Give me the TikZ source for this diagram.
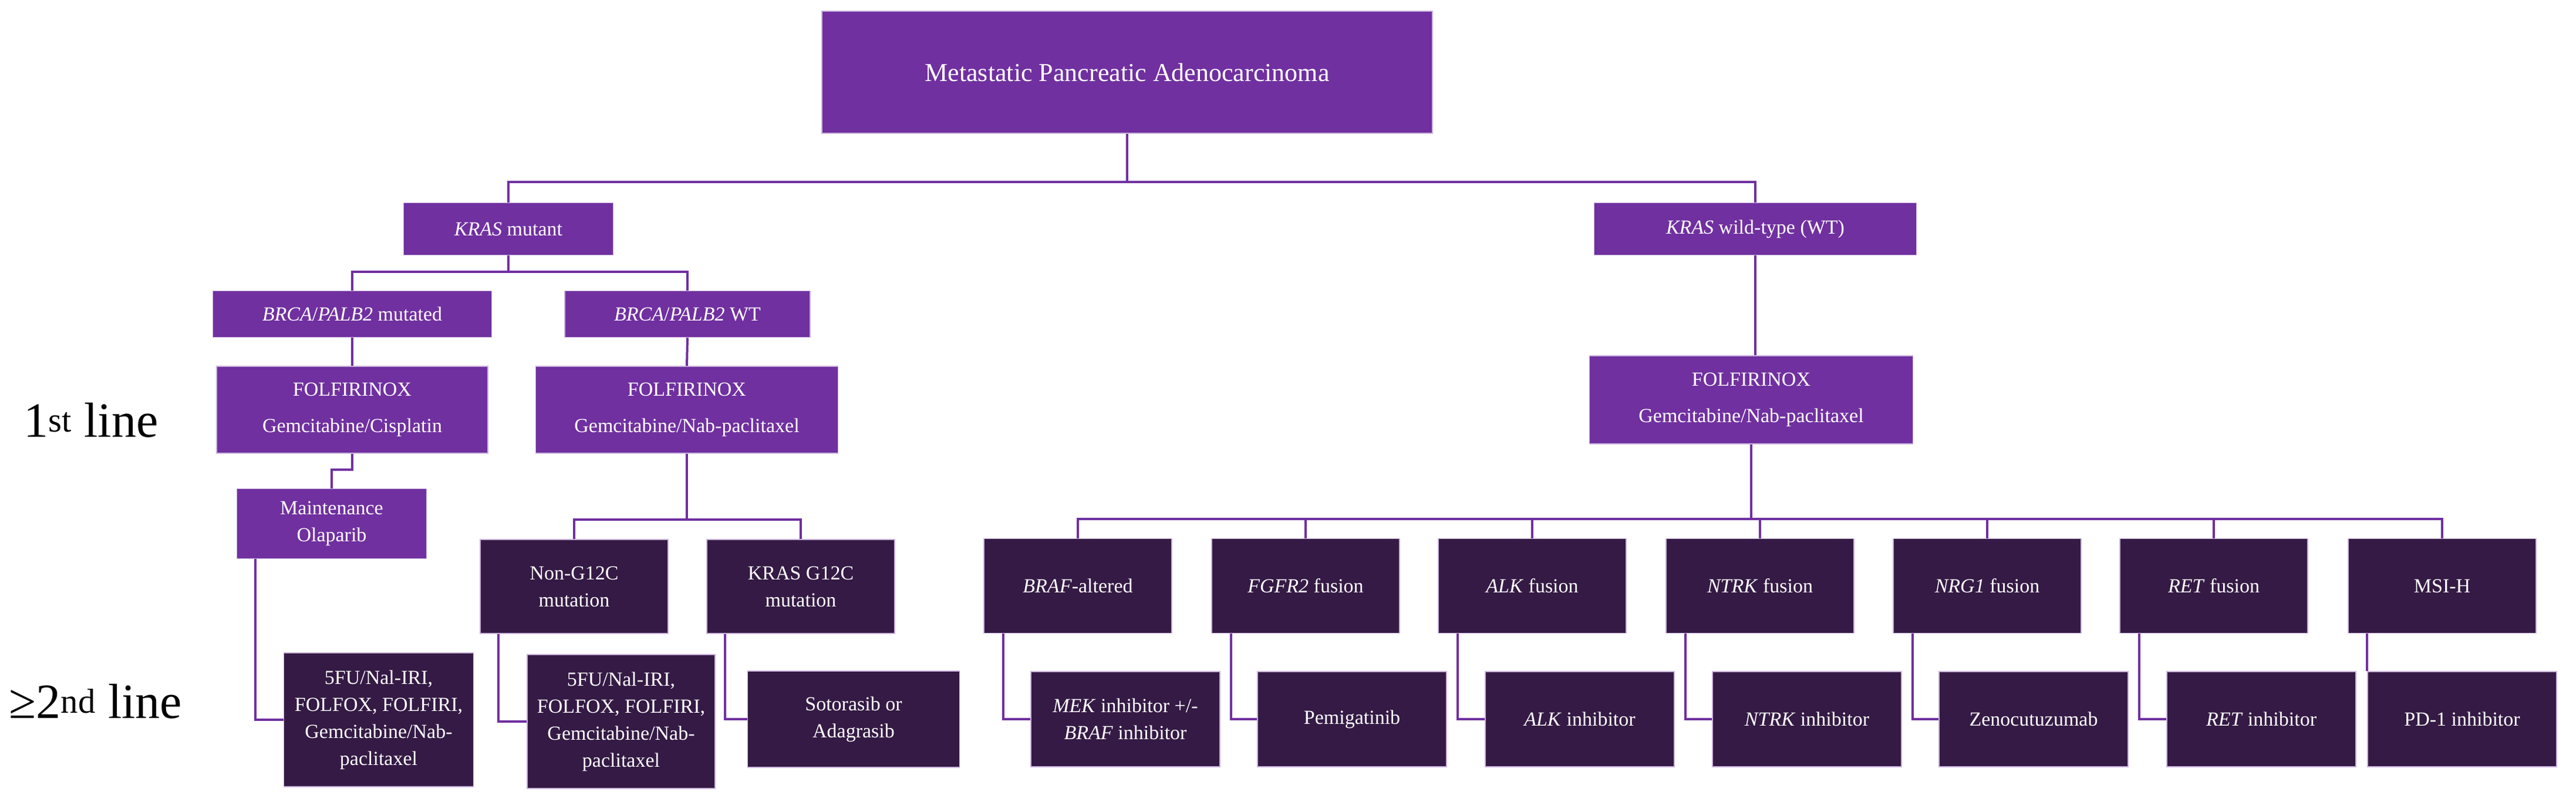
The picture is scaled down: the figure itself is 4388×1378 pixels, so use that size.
\documentclass[tikz,border=0pt]{standalone}
\usepackage{fontspec}
\setmainfont{Liberation Serif}
\definecolor{lp}{HTML}{7030A0}
\definecolor{dp}{HTML}{341A44}
\definecolor{bd}{HTML}{C9B3DC}
\begin{document}
\begin{tikzpicture}[x=1pt,y=-1pt,
 box/.style={draw=bd,line width=1.5pt,text=white,align=center,inner sep=2pt,font=\fontsize{34}{46}\selectfont},
 lb/.style={box,fill=lp},
 db/.style={box,fill=dp},
 ln/.style={draw=lp,line width=4pt},
 lab/.style={font=\fontsize{84}{90}\selectfont,text=black}]
\useasboundingbox (0,0) rectangle (4388,1378);
\newcommand{\bx}[7]{\node[#1,minimum width=#4pt,minimum height=#5pt,text width=#4pt-12pt] (#2) at #3 {#7};}
% nodes
\node[lb,minimum width=1040pt,minimum height=208pt,font=\fontsize{44}{50}\selectfont] (top) at (1920,123) {Metastatic Pancreatic Adenocarcinoma};
\node[lb,minimum width=357pt,minimum height=89pt] (km) at (866,390) {\textit{KRAS} mutant};
\node[lb,minimum width=549pt,minimum height=89pt] (kw) at (2990,390) {\textit{KRAS} wild-type (WT)};
\node[lb,minimum width=475pt,minimum height=79pt] (bm) at (600,535) {\textit{BRCA}/\textit{PALB2} mutated};
\node[lb,minimum width=418pt,minimum height=79pt] (bw) at (1171,535) {\textit{BRCA}/\textit{PALB2} WT};
\node[lb,minimum width=462pt,minimum height=148pt,font=\fontsize{34}{62}\selectfont] (fl) at (600,698) {FOLFIRINOX\\Gemcitabine/Cisplatin};
\node[lb,minimum width=515pt,minimum height=148pt,font=\fontsize{34}{62}\selectfont] (fm) at (1170,698) {FOLFIRINOX\\Gemcitabine/Nab-paclitaxel};
\node[lb,minimum width=551pt,minimum height=150pt,font=\fontsize{34}{62}\selectfont] (fr) at (2983,681) {FOLFIRINOX\\Gemcitabine/Nab-paclitaxel};
\node[lb,minimum width=323pt,minimum height=119pt] (mo) at (565,892) {Maintenance\\Olaparib};
\node[db,minimum width=320pt,minimum height=160pt] (ng) at (978,999) {Non-G12C\\mutation};
\node[db,minimum width=320pt,minimum height=160pt] (g12) at (1364,999) {KRAS G12C\\mutation};
\node[db,minimum width=323pt,minimum height=228pt] (fu1) at (645,1226) {5FU/Nal-IRI,\\FOLFOX, FOLFIRI,\\Gemcitabine/Nab-\\paclitaxel};
\node[db,minimum width=320pt,minimum height=228pt] (fu2) at (1058,1229) {5FU/Nal-IRI,\\FOLFOX, FOLFIRI,\\Gemcitabine/Nab-\\paclitaxel};
\node[db,minimum width=361pt,minimum height=164pt] (soto) at (1454,1225) {Sotorasib or\\Adagrasib};
% right row
\foreach \n/\x/\t in {r1/1836/\textit{BRAF}-altered, r2/2224/\textit{FGFR2} fusion, r3/2610/\textit{ALK} fusion, r4/2998/\textit{NTRK} fusion, r5/3385/\textit{NRG1} fusion, r6/3771/\textit{RET} fusion, r7/4160/MSI-H/dMMR}
  \node[db,minimum width=320pt,minimum height=161pt] (\n) at (\x,998) {\t};
\foreach \n/\x/\t in {s1/1917/{\textit{MEK} inhibitor +/-\\\textit{BRAF} inhibitor}, s2/2303/Pemigatinib, s3/2691/\textit{ALK} inhibitor, s4/3078/\textit{NTRK} inhibitor, s5/3464/Zenocutuzumab, s6/3852/\textit{RET} inhibitor, s7/4194/PD-1 inhibitor}
  \node[db,minimum width=322pt,minimum height=162pt] (\n) at (\x,1225) {\t};
% labels
\node[lab] (l1) at (155,716) {1\textsuperscript{st} line};
\node[lab] (l2) at (163,1195) {≥2\textsuperscript{nd} line};
% connectors
\coordinate (j1) at (1920,310);
\draw[ln] (top.south) -- (j1) -| (km.north);
\draw[ln] (j1) -| (kw.north);
\coordinate (j2) at (866,463);
\draw[ln] (km.south) -- (j2) -| (bm.north);
\draw[ln] (j2) -| (bw.north);
\draw[ln] (bm.south) -- (fl.north);
\draw[ln] (bw.south) -- (fm.north);
\draw[ln] (kw.south) -- (fr.north -| kw.south);
\coordinate (j5) at (600,800);
\draw[ln] (fl.south) -- (j5) -| (mo.north);
\coordinate (j3) at (1170,885);
\draw[ln] (fm.south) -- (j3) -| (ng.north);
\draw[ln] (j3) -| (g12.north);
\coordinate (j4) at (2983,884);
\draw[ln] (fr.south) -- (j4);
\draw[ln] (r1.north) |- (r7.north |- j4) -- (r7.north);
\foreach \n in {r2,r3,r4,r5,r6} \draw[ln] (j4 -| \n.north) -- (\n.north);
\draw[ln] ([xshift=32pt]mo.south west) |- (fu1.west);
\draw[ln] ([xshift=32pt]ng.south west) |- (fu2.west);
\draw[ln] ([xshift=32pt]g12.south west) |- (soto.west);
\foreach \a/\b in {r1/s1,r2/s2,r3/s3,r4/s4,r5/s5,r6/s6}
  \draw[ln] ([xshift=34pt]\a.south west) |- (\b.west);
\draw[ln] ([xshift=-128pt]r7.south) -- ([xshift=-128pt]r7.south |- s7.north);
\end{tikzpicture}
\end{document}
